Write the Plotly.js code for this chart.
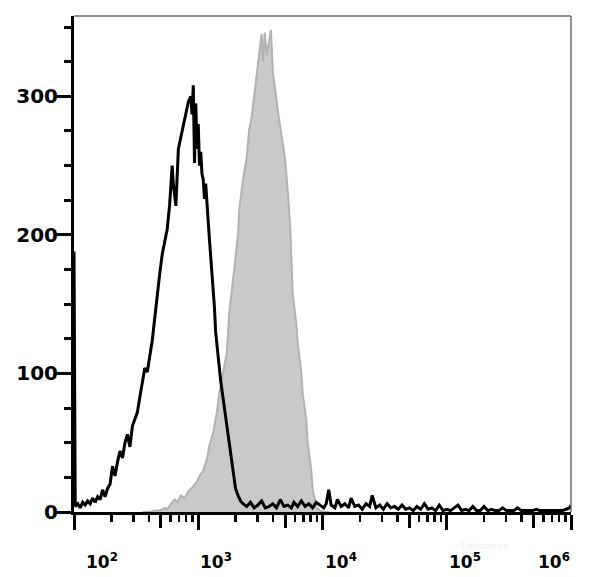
<!DOCTYPE html>
<html>
<head>
<meta charset="utf-8">
<script src="https://cdn.plot.ly/plotly-3.0.1.min.js"></script>
<style>html,body{margin:0;padding:0;background:#fff;}#chart{width:600px;height:577px;}</style>
</head>
<body>
<div id="chart"></div>
<script>
// Black (open) histogram: bin position as log10(intensity), and event counts
const blackLog = [2.00,2.01,2.03,2.05,2.07,2.09,2.11,2.13,2.15,2.17,2.19,2.21,2.23,2.25,2.27,2.29,2.31,2.33,2.35,2.37,2.39,2.41,2.43,2.45,2.47,2.49,2.51,2.53,2.55,2.57,2.59,2.61,2.63,2.65,2.67,2.69,2.71,2.73,2.75,2.77,2.79,2.80,2.82,2.84,2.86,2.88,2.90,2.92,2.94,2.95,2.96,2.97,2.98,2.99,3.00,3.01,3.02,3.03,3.04,3.05,3.06,3.07,3.08,3.09,3.10,3.11,3.12,3.13,3.14,3.16,3.18,3.20,3.22,3.24,3.26,3.28,3.30,3.32,3.34,3.36,
3.39,3.42,3.45,3.48,3.51,3.54,3.57,3.60,3.63,3.66,3.69,3.72,3.75,3.77,3.80,3.83,3.86,3.89,3.92,3.95,3.98,4.01,4.03,4.05,4.07,4.10,4.12,4.15,4.18,4.21,4.23,4.26,4.29,4.32,4.35,4.38,4.40,4.43,4.46,4.49,4.52,4.55,4.58,4.61,4.64,4.67,4.70,4.73,4.76,4.79,4.82,4.85,4.88,4.91,4.94,4.97,5.00,5.03,5.06,5.09,5.12,5.15,5.18,5.21,5.24,5.27,5.30,5.33,5.36,5.39,5.42,5.45,5.48,5.51,5.54,5.57,5.60,5.63,5.66,5.69,5.72,5.75,5.78,5.81,5.84,5.87,5.90,5.93,5.96,5.99,6.00];
const blackCount = [188,4,6,3,7,5,8,6,10,7,11,9,16,11,17,20,33,26,36,44,39,50,56,47,62,67,72,83,95,104,101,112,124,140,158,172,186,194,204,222,250,236,221,262,271,280,289,296,300,287,308,252,295,262,280,250,260,244,240,226,237,220,210,197,184,175,165,148,130,112,95,82,69,55,42,28,17,12,8,6,
4,7,3,5,8,3,4,6,3,9,4,5,3,7,4,8,4,6,3,7,5,3,6,16,5,3,9,4,6,3,10,4,5,2,6,4,12,3,5,2,6,3,4,2,5,2,3,1,4,2,6,2,3,1,5,1,2,1,3,5,1,2,1,4,1,1,4,1,2,1,1,3,1,1,1,3,1,1,1,1,2,1,1,1,1,1,1,1,2,3,5];

// Grey (filled, stained) histogram
const greyLog = [2.55,2.61,2.65,2.69,2.73,2.75,2.78,2.81,2.83,2.86,2.89,2.92,2.955,2.99,3.01,3.04,3.07,3.09,3.12,3.15,3.17,3.20,3.23,3.25,3.27,3.29,3.32,3.33,3.36,3.39,3.41,3.43,3.45,3.46,3.48,3.50,3.51,3.52,3.535,3.55,3.57,3.585,3.60,3.615,3.64,3.66,3.68,3.70,3.72,3.74,3.76,3.79,3.80,3.83,3.84,3.87,3.88,3.91,3.92,3.94,3.955,3.98,4.02,4.05];
const greyCount = [0,0,1,1,3,2,6,9,7,12,10,15,18,22,26,30,38,48,57,72,86,100,115,144,160,177,200,218,240,256,276,285,300,312,325,338,345,325,346,330,340,348,318,306,290,278,265,254,232,206,158,135,122,100,86,66,50,30,16,8,3,1,0,0];

// Axis ticks
const xDecadeVals = [100,1000,10000,100000,1000000];
const xDecadeText = ['10<sup>2</sup>','10<sup>3</sup>','10<sup>4</sup>','10<sup>5</sup>','10<sup>6</sup>'];
const xHalfVals = [500,5000,50000,500000];
const xMinorVals = [200,300,400,600,700,800,900,2000,3000,4000,6000,7000,8000,9000,20000,30000,40000,60000,70000,80000,90000,200000,300000,400000,600000,700000,800000,900000];

const toIntensity = e => Math.pow(10, e);

const grey = {
  x: greyLog.map(toIntensity), y: greyCount,
  type: 'scatter', mode: 'lines', fill: 'tozeroy',
  fillcolor: '#c9c9c9', line: {color: '#b2b2b2', width: 2},
  hoverinfo: 'skip', showlegend: false
};
const black = {
  x: blackLog.map(toIntensity), y: blackCount,
  type: 'scatter', mode: 'lines',
  line: {color: '#000000', width: 3},
  hoverinfo: 'skip', showlegend: false
};
// carrier for the secondary (5x10^n long tick) axis
const tickCarrier = {x: [], y: [], xaxis: 'x2', yaxis: 'y', type: 'scatter', mode: 'lines', hoverinfo: 'skip', showlegend: false};

// x tick labels as annotations placed on the decade positions (label starts at its tick, as in the reference)
const labelAnchor = ['left','left','left','left','right'];
const labelShift = [10, 0, 0, 0, 1];
const xLabelAnns = xDecadeVals.map((v, i) => ({
  text: xDecadeText[i], xref: 'x', yref: 'paper', x: Math.log10(v), y: -0.0726,
  xanchor: labelAnchor[i], yanchor: 'top', xshift: labelShift[i], showarrow: false,
  font: {family: 'DejaVu Sans', size: 17, color: '#000', weight: 'bold'}
}));

const layout = {
  width: 600, height: 577,
  margin: {l: 74, r: 29, t: 16, b: 65},
  paper_bgcolor: '#ffffff', plot_bgcolor: '#ffffff',
  showlegend: false,
  font: {family: 'DejaVu Sans', color: '#000'},
  xaxis: {
    type: 'log', range: [2, 6],
    showline: true, linewidth: 3, linecolor: '#000',
    showgrid: false, zeroline: false,
    ticks: 'outside', ticklen: 15, tickwidth: 3, tickcolor: '#000',
    tickmode: 'array', tickvals: xDecadeVals, showticklabels: false,
    minor: {ticks: 'outside', ticklen: 7, tickwidth: 2.5, tickcolor: '#000', tickmode: 'array', tickvals: xMinorVals, showgrid: false}
  },
  xaxis2: {
    type: 'log', range: [2, 6], overlaying: 'x', side: 'bottom',
    showline: false, showgrid: false, zeroline: false,
    ticks: 'outside', ticklen: 15, tickwidth: 3, tickcolor: '#000',
    tickmode: 'array', tickvals: xHalfVals, showticklabels: false
  },
  yaxis: {
    range: [0, 358],
    showline: true, linewidth: 3, linecolor: '#000',
    showgrid: false, zeroline: false,
    ticks: 'outside', ticklen: 15, tickwidth: 3, tickcolor: '#000',
    tick0: 0, dtick: 100,
    minor: {ticks: 'outside', ticklen: 7, tickwidth: 3, tickcolor: '#000', dtick: 25, showgrid: false},
    tickfont: {family: 'DejaVu Sans', size: 20, color: '#000', weight: 'bold'},
    ticklabelstandoff: -6
  },
  shapes: [
    {type: 'line', xref: 'paper', yref: 'paper', x0: 0, x1: 1, y0: 1, y1: 1, line: {color: '#6e6e6e', width: 1.5}},
    {type: 'line', xref: 'paper', yref: 'paper', x0: 1, x1: 1, y0: 0, y1: 1, line: {color: '#6e6e6e', width: 1.5}}
  ],
  annotations: xLabelAnns.concat([
    {text: 'Elabscience', xref: 'paper', yref: 'paper', x: 0.877, y: -0.083, showarrow: false,
     font: {family: 'DejaVu Sans', size: 8, color: '#ededed'}}
  ])
};

Plotly.newPlot('chart', [grey, black, tickCarrier], layout, {staticPlot: true, displayModeBar: false});
</script>
</body>
</html>
